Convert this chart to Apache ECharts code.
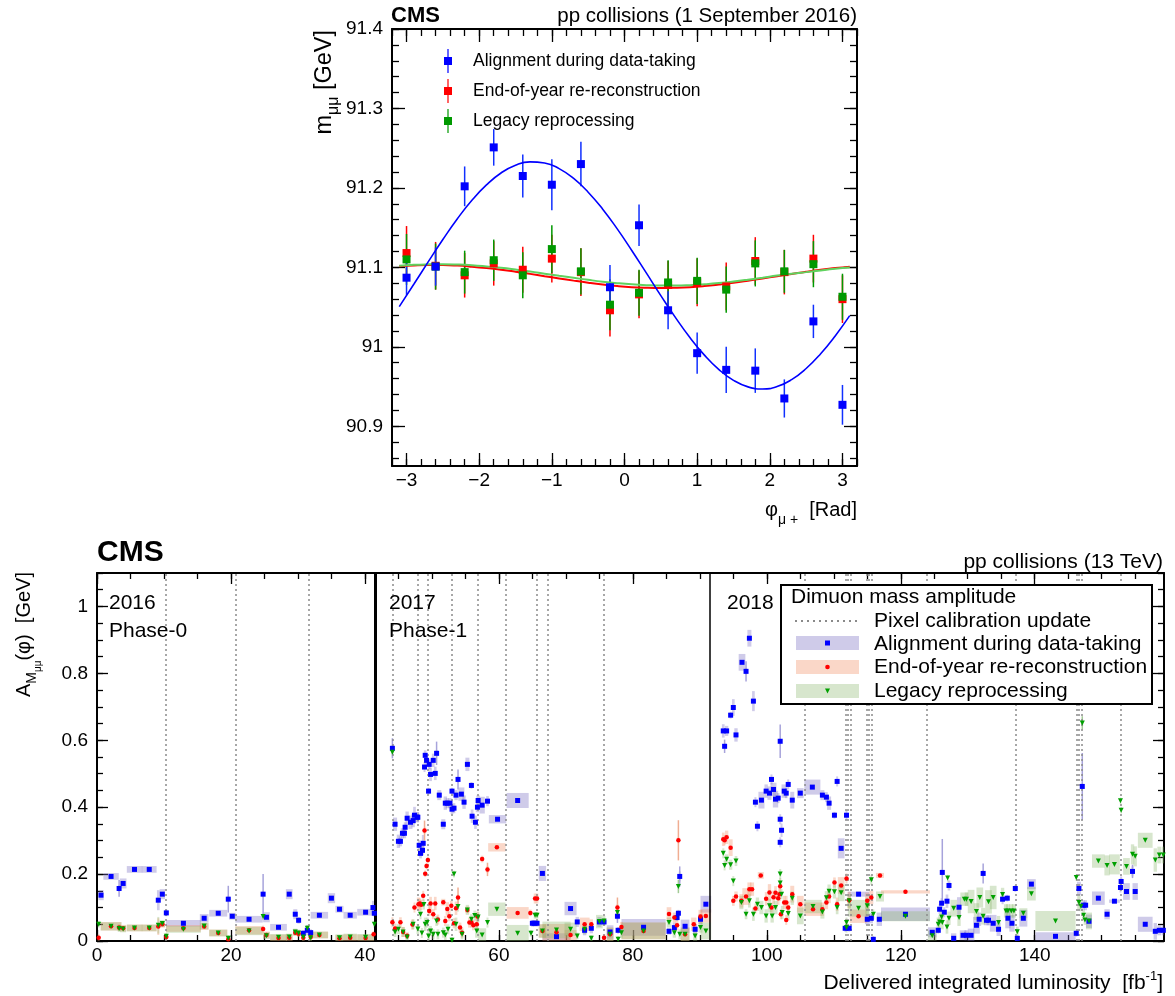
<!DOCTYPE html>
<html><head><meta charset="utf-8">
<script src="https://cdn.jsdelivr.net/npm/echarts@6/dist/echarts.min.js"></script>
<style>html,body{margin:0;padding:0;background:#fff}#c{width:1175px;height:996px}</style>
</head><body><div id="c"></div>
<script>
// ================= TOP PANEL DATA =================
const phi = [-3,-2.6,-2.2,-1.8,-1.4,-1,-0.6,-0.2,0.2,0.6,1,1.4,1.8,2.2,2.6,3];
const massAlign  = [91.087,91.101,91.202,91.251,91.215,91.204,91.230,91.075,91.153,91.046,90.992,90.971,90.970,90.935,91.032,90.927];
const errAlign   = [0.022,0.024,0.025,0.023,0.027,0.032,0.028,0.028,0.026,0.024,0.026,0.029,0.028,0.024,0.021,0.025];
const massReco   = [91.118,91.102,91.090,91.105,91.097,91.111,91.094,91.046,91.066,91.078,91.081,91.076,91.108,91.094,91.111,91.060];
const errReco    = [0.034,0.030,0.028,0.028,0.029,0.030,0.030,0.033,0.030,0.030,0.030,0.030,0.030,0.028,0.030,0.030];
const massLegacy = [91.110,91.101,91.094,91.109,91.090,91.123,91.095,91.053,91.068,91.081,91.083,91.072,91.105,91.095,91.104,91.063];
const errLegacy  = [0.032,0.029,0.027,0.026,0.029,0.030,0.029,0.032,0.029,0.028,0.029,0.029,0.029,0.027,0.029,0.029];
// fitted curves
const fitPhi    = [-3.1,-2.9,-2.7,-2.5,-2.3,-2.1,-1.9,-1.7,-1.5,-1.3,-1.1,-0.9,-0.7,-0.5,-0.3,-0.1,0.1,0.3,0.5,0.7,0.9,1.1,1.3,1.5,1.7,1.9,2.1,2.3,2.5,2.7,2.9,3.1];
const fitAlign  = [91.0506,91.0787,91.1072,91.1351,91.1612,91.1844,91.2038,91.2188,91.2286,91.2328,91.2314,91.2243,91.2119,91.1946,91.1732,91.1484,
                   91.1213,91.0930,91.0645,91.0371,91.0117,90.9895,90.9713,90.9578,90.9496,90.9470,90.9500,90.9587,90.9727,90.9913,91.0137,91.0392];
const fitReco   = [91.1015,91.1025,91.1030,91.1029,91.1022,91.1009,91.0992,91.0971,91.0946,91.0918,91.0889,91.0861,91.0833,91.0807,91.0784,91.0765,
                   91.0751,91.0743,91.0740,91.0743,91.0751,91.0765,91.0784,91.0806,91.0832,91.0860,91.0889,91.0917,91.0945,91.0970,91.0991,91.1009];
const fitLegacy = [91.1020,91.1032,91.1038,91.1040,91.1036,91.1027,91.1012,91.0994,91.0972,91.0948,91.0921,91.0894,91.0868,91.0843,91.0820,91.0801,
                   91.0786,91.0776,91.0771,91.0771,91.0776,91.0787,91.0802,91.0822,91.0845,91.0870,91.0897,91.0919,91.0940,91.0962,91.0982,91.0998];
const topXTicks = [-3,-2,-1,0,1,2,3];
const topYTicks = [90.9,91,91.1,91.2,91.3,91.4];

// ================= BOTTOM PANEL DATA =================
// each point: [luminosity, amplitude, bandWidth, bandHeight, errorBar]
const align2016 = [
[0.6,0.137,0.8,0.03,0],[2.1,0.193,2.3,0.02,0],[3.3,0.157,0.3,0.02,0.025],[3.9,0.172,1.0,0.03,0],[5.6,0.214,2.3,0.02,0],
[7.8,0.214,2.2,0.02,0],[9.15,0.122,0.4,0.06,0],[9.75,0.14,0.8,0.03,0],[10.35,0.084,0.3,0.02,0],[12.9,0.053,5.2,0.02,0],
[16.0,0.068,1.3,0.025,0],[18.1,0.083,2.7,0.02,0],[19.6,0.125,0.3,0.02,0.04],[20.2,0.074,1.0,0.02,0],[22.7,0.065,4.1,0.02,0],
[24.8,0.14,0.3,0.02,0.06],[25.3,0.071,1.0,0.03,0],[27.1,0.041,2.5,0.02,0],[28.7,0.14,1.0,0.03,0],[29.6,0.08,0.6,0.03,0],
[30.1,0.062,0.4,0.02,0],[30.8,0.023,0.5,0.02,0],[31.4,0.032,0.4,0.03,0],[31.9,0.025,0.4,0.02,0],[33.2,0.077,2.6,0.02,0],
[35.0,0.128,1.1,0.03,0],[36.2,0.095,1.2,0.02,0],[37.8,0.077,2.0,0.02,0],[40.1,0.086,2.5,0.02,0],[41.2,0.1,0.3,0.04,0],[41.4,0.083,0.3,0.02,0]];
const align2017 = [
[44.1,0.576,0.2,0.02,0.03],[44.5,0.349,0.6,0.04,0],[45.0,0.298,0.5,0.04,0],[45.3,0.298,0.5,0.03,0],[45.6,0.322,0.5,0.03,0],
[45.9,0.322,0.5,0.03,0],[46.0,0.34,0.4,0.03,0],[46.3,0.367,0.5,0.04,0],[46.8,0.355,0.6,0.04,0],[47.2,0.36,0.5,0.04,0],
[47.4,0.376,0.4,0.05,0],[47.8,0.37,0.5,0.03,0],[47.9,0.37,0.4,0.03,0],[48.1,0.286,0.4,0.03,0],[48.3,0.262,0.4,0.03,0],
[48.6,0.271,0.4,0.03,0],[48.7,0.292,0.4,0.05,0],[48.9,0.52,0.3,0.03,0],[49.0,0.555,0.4,0.03,0],[49.2,0.54,0.4,0.03,0],
[49.5,0.448,0.3,0.02,0],[49.6,0.528,0.4,0.03,0],[49.8,0.498,0.4,0.04,0],[50.2,0.54,0.4,0.04,0],[50.5,0.501,0.4,0.04,0],
[50.7,0.561,0.3,0.02,0.035],[51.1,0.436,0.6,0.03,0],[51.7,0.349,0.6,0.03,0],[52.0,0.412,0.5,0.04,0],[52.3,0.412,0.5,0.03,0],
[52.7,0.412,0.5,0.03,0],[53.0,0.448,0.3,0.02,0],[53.0,0.394,0.4,0.03,0],[53.3,0.397,0.4,0.03,0],[53.6,0.436,0.5,0.03,0],
[53.9,0.483,0.3,0.02,0.03],[54.4,0.439,0.9,0.04,0],[54.8,0.415,0.5,0.04,0],[55.3,0.528,0.6,0.04,0],[55.9,0.465,0.3,0.02,0],
[56.0,0.373,0.4,0.04,0],[56.5,0.355,0.4,0.04,0],[56.8,0.4,0.5,0.03,0],[56.9,0.42,0.5,0.03,0],[57.5,0.406,0.8,0.05,0],
[58.3,0.418,0.4,0.03,0],[59.8,0.364,2.6,0.025,0],[62.8,0.42,3.3,0.045,0],[65.0,0.053,0.4,0.02,0],[65.3,0.053,0.4,0.02,0],
[65.7,0.053,0.4,0.02,0],[66.5,0.202,1.1,0.045,0],[68.6,0.013,4.2,0.02,0],[70.7,0.097,1.8,0.04,0],[71.7,0.057,0.5,0.03,0],
[72.8,0.032,0.5,0.03,0],[73.8,0.038,0.5,0.03,0],[75.0,0.057,0.6,0.03,0],[75.7,0.057,0.4,0.02,0],[76.6,0.027,1.0,0.04,0],
[77.7,0.074,0.3,0.02,0.02],[77.8,0.032,0.3,0.02,0],[81.6,0.041,6.6,0.05,0],[85.4,0.029,0.6,0.02,0],[86.2,0.04,0.5,0.03,0],
[86.6,0.07,0.3,0.02,0],[86.8,0.083,0.3,0.02,0],[87.0,0.193,0.3,0.03,0.03],[87.8,0.044,1.3,0.04,0],[89.3,0.035,0.6,0.03,0],
[90.1,0.065,0.6,0.03,0],[90.9,0.11,1.6,0.05,0]];
const align2018 = [
[93.5,0.628,0.4,0.04,0],[93.7,0.582,0.2,0.02,0.02],[94.0,0.628,0.5,0.03,0],[94.6,0.675,0.3,0.02,0],[95.0,0.698,0.4,0.05,0],
[95.4,0.616,0.5,0.04,0],[96.3,0.833,1.0,0.05,0],[96.9,0.806,0.3,0.02,0.03],[97.4,0.905,0.6,0.05,0],[98.0,0.717,0.4,0.06,0],
[98.3,0.415,0.3,0.03,0],[98.6,0.343,0.3,0.03,0],[99.2,0.421,0.9,0.05,0],[99.9,0.448,0.5,0.04,0],[100.4,0.442,0.6,0.04,0],
[100.7,0.483,0.3,0.03,0],[101.0,0.453,0.9,0.04,0],[101.3,0.424,0.8,0.05,0],[101.7,0.427,0.4,0.03,0],[102.0,0.597,0.2,0.02,0.05],
[102.0,0.364,0.3,0.03,0],[102.2,0.331,0.3,0.04,0],[102.0,0.295,0.3,0.03,0],[102.6,0.448,0.8,0.04,0],[102.9,0.442,0.4,0.03,0],
[103.2,0.468,0.3,0.03,0],[103.8,0.421,0.6,0.05,0],[105.0,0.442,1.0,0.03,0],[106.8,0.46,2.4,0.045,0],[108.3,0.436,0.6,0.03,0],
[108.9,0.43,0.4,0.03,0],[109.3,0.412,0.6,0.04,0],[110.1,0.376,0.3,0.02,0],[110.5,0.477,0.3,0.03,0],[111.1,0.277,1.0,0.06,0],
[111.9,0.376,0.3,0.03,0],[111.7,0.038,0.3,0.02,0],[112.3,0.038,0.3,0.02,0],[113.7,0.14,3.2,0.015,0],[115.0,0.065,0.7,0.03,0],
[115.6,0.068,0.5,0.03,0],[115.9,0.005,0.3,0.02,0],[116.8,0.065,0.8,0.04,0],[120.7,0.08,7.3,0.04,0],[124.7,0.026,1.3,0.03,0],
[125.6,0.032,0.3,0.02,0],[125.8,0.095,0.3,0.03,0],[126.1,0.113,0.3,0.03,0],[126.2,0.205,0.2,0.02,0.1],[126.5,0.086,0.3,0.03,0],
[126.9,0.119,0.4,0.04,0],[127.2,0.166,0.4,0.03,0],[127.9,0.008,0.8,0.03,0],[128.7,0.101,0.6,0.06,0],[129.3,0.017,1.0,0.03,0],
[129.8,0.017,0.6,0.03,0],[130.5,0.017,1.0,0.04,0],[131.3,0.047,1.0,0.05,0],[131.7,0.065,0.6,0.04,0],[132.3,0.202,0.2,0.02,0.03],
[132.8,0.062,0.8,0.03,0],[133.1,0.062,0.6,0.03,0],[133.8,0.053,1.0,0.05,0],[134.6,0.035,0.6,0.04,0],[135.2,0.125,0.3,0.03,0],
[135.9,0.128,0.3,0.02,0],[136.0,0.068,0.8,0.06,0],[136.6,0.053,0.8,0.05,0],[137.1,0.157,0.3,0.02,0],[137.4,0.008,0.3,0.02,0],
[138.3,0.068,1.2,0.05,0],[139.5,0.17,1.3,0.03,0],[143.1,0.014,6.0,0.025,0],[146.2,0.023,0.3,0.02,0],[146.6,0.157,0.6,0.04,0],
[147.1,0.462,0.2,0.02,0.1],[147.3,0.107,0.4,0.03,0],[147.6,0.107,0.4,0.03,0],[148.1,0.059,0.9,0.04,0],[149.5,0.128,1.9,0.04,0],
[150.8,0.08,0.8,0.03,0],[151.9,0.119,1.6,0.01,0],[152.8,0.16,0.3,0.03,0],[152.9,0.178,0.3,0.03,0],[153.7,0.148,1.0,0.05,0],
[154.6,0.208,0.3,0.03,0.02],[155.0,0.148,0.8,0.05,0],[156.5,0.05,2.2,0.045,0],[158.0,0.029,0.5,0.05,0],[158.6,0.032,0.6,0.03,0],
[159.2,0.032,0.4,0.03,0]];
const reco2016 = [
[0.25,0.01,0.3,0.02,0],[2.1,0.044,3.1,0.025,0],[3.3,0.04,0.4,0.02,0],[3.9,0.038,0.9,0.02,0],[5.6,0.039,2.3,0.02,0],
[7.8,0.039,2.2,0.02,0],[9.15,0.043,0.3,0.05,0],[9.75,0.05,0.8,0.02,0],[10.35,0.012,0.3,0.02,0],[12.9,0.038,5.2,0.02,0],
[16.0,0.043,1.3,0.02,0],[18.1,0.024,2.7,0.02,0],[19.6,0.005,0.3,0.02,0],[22.7,0.032,4.1,0.025,0],[24.8,0.036,0.3,0.02,0],
[25.3,0.018,1.0,0.02,0],[27.1,0.009,2.5,0.02,0],[28.7,0.01,1.0,0.02,0],[29.6,0.025,0.6,0.02,0],[30.1,0.022,0.4,0.02,0],
[30.8,0.01,0.4,0.02,0],[31.9,0.012,0.4,0.02,0],[33.2,0.018,2.6,0.02,0],[36.2,0.008,1.2,0.02,0],[37.8,0.01,2.0,0.02,0],
[40.1,0.009,2.5,0.02,0],[41.3,0.02,0.3,0.02,0]];
const reco2017 = [
[44.1,0.056,0.3,0.03,0],[44.5,0.037,0.4,0.03,0],[45.3,0.056,0.4,0.03,0],[45.7,0.027,0.5,0.03,0],[46.3,0.016,0.5,0.02,0],
[47.1,0.049,0.4,0.03,0],[47.4,0.1,0.3,0.03,0],[48.0,0.11,0.5,0.04,0],[48.2,0.112,0.4,0.03,0],[48.4,0.108,0.4,0.03,0],
[48.7,0.135,0.3,0.03,0],[48.9,0.33,0.2,0.02,0.03],[49.0,0.201,0.3,0.02,0],[49.2,0.224,0.3,0.02,0],[49.4,0.242,0.3,0.02,0],
[49.6,0.09,0.4,0.03,0],[49.8,0.112,0.4,0.04,0],[50.2,0.08,0.4,0.03,0],[50.5,0.112,0.4,0.04,0],[50.9,0.064,0.4,0.03,0],
[51.7,0.116,0.6,0.02,0],[52.0,0.06,0.4,0.03,0],[52.3,0.096,0.5,0.04,0],[52.6,0.074,0.4,0.03,0],[52.9,0.105,0.4,0.03,0],
[53.3,0.053,0.4,0.03,0],[53.6,0.098,0.4,0.04,0],[53.9,0.13,0.3,0.02,0.03],[54.2,0.04,0.4,0.03,0],[54.5,0.025,0.4,0.03,0],
[55.3,0.093,0.6,0.02,0],[55.6,0.055,0.4,0.03,0],[55.9,0.055,0.4,0.03,0],[56.2,0.047,0.4,0.03,0],[56.7,0.05,0.4,0.03,0],
[56.8,0.073,0.4,0.03,0],[57.5,0.245,0.4,0.02,0],[58.3,0.214,0.3,0.02,0.02],[59.7,0.28,2.6,0.025,0],[62.8,0.084,3.3,0.035,0],
[64.7,0.084,0.4,0.02,0],[65.4,0.127,0.4,0.03,0],[65.7,0.127,0.4,0.03,0],[66.5,0.03,1.1,0.04,0],[68.6,0.026,4.2,0.05,0],
[70.7,0.018,1.8,0.03,0],[72.8,0.05,1.5,0.04,0],[73.8,0.05,0.5,0.03,0],[75.7,0.01,0.4,0.02,0],[76.6,0.02,1.0,0.04,0],
[77.7,0.1,0.3,0.02,0.03],[78.3,0.042,0.4,0.03,0],[81.6,0.03,6.6,0.05,0],[85.4,0.081,0.7,0.04,0],[86.2,0.07,0.5,0.03,0],
[86.6,0.047,0.4,0.03,0],[86.8,0.301,0.2,0.02,0.06],[87.8,0.02,1.3,0.04,0],[89.1,0.05,0.8,0.04,0],[90.1,0.073,0.6,0.04,0],
[90.9,0.075,1.6,0.04,0]];
const reco2018 = [
[93.5,0.304,0.4,0.04,0],[93.7,0.301,0.3,0.03,0],[94.0,0.31,0.5,0.04,0],[94.6,0.279,0.6,0.05,0],[95.0,0.12,0.4,0.03,0],
[95.4,0.133,0.5,0.03,0],[96.2,0.12,0.6,0.04,0],[96.9,0.133,1.1,0.05,0],[97.4,0.155,0.6,0.04,0],[97.8,0.155,0.6,0.04,0],
[98.3,0.097,0.3,0.03,0],[99.1,0.196,0.9,0.02,0],[99.9,0.126,0.4,0.04,0],[100.4,0.145,0.5,0.05,0],[100.7,0.1,0.4,0.03,0],
[101.0,0.131,0.4,0.04,0],[101.3,0.144,0.4,0.04,0],[101.7,0.128,0.4,0.04,0],[101.9,0.14,0.4,0.04,0],[102.0,0.164,0.3,0.04,0],
[102.1,0.08,0.3,0.03,0],[102.6,0.115,0.4,0.04,0],[102.9,0.115,0.4,0.04,0],[102.9,0.063,0.3,0.03,0],[103.2,0.1,0.4,0.04,0],
[103.8,0.14,0.6,0.05,0],[105.0,0.11,1.0,0.05,0],[106.9,0.095,2.6,0.04,0],[108.3,0.095,0.5,0.04,0],[108.9,0.115,0.5,0.04,0],
[109.3,0.133,0.5,0.04,0],[110.1,0.175,0.4,0.03,0],[110.5,0.11,0.4,0.04,0],[111.1,0.166,1.0,0.05,0],[111.9,0.187,0.3,0.03,0],
[112.3,0.122,0.5,0.05,0],[113.7,0.074,2.6,0.04,0],[115.0,0.12,0.6,0.05,0],[115.6,0.13,0.6,0.04,0],[116.9,0.196,1.2,0.015,0],
[120.7,0.147,7.3,0.01,0]];
const legacy2016 = [
[0.25,0.05,0.3,0.02,0],[2.1,0.044,3.1,0.025,0],[3.3,0.037,0.4,0.02,0],[3.9,0.036,0.9,0.02,0],[5.6,0.039,2.3,0.02,0],
[7.8,0.039,2.2,0.02,0],[9.15,0.047,0.3,0.05,0],[9.75,0.052,0.8,0.02,0],[10.35,0.014,0.3,0.02,0],[12.9,0.035,5.2,0.02,0],
[16.0,0.045,1.3,0.02,0],[18.1,0.024,2.7,0.02,0],[19.6,0.008,0.3,0.02,0],[22.7,0.03,4.1,0.025,0],[24.8,0.073,0.3,0.02,0],
[25.3,0.016,1.0,0.02,0],[27.1,0.011,2.5,0.02,0],[28.7,0.012,1.0,0.02,0],[29.6,0.027,0.6,0.02,0],[30.1,0.024,0.4,0.02,0],
[30.8,0.012,0.4,0.02,0],[31.4,0.038,0.4,0.02,0],[31.9,0.01,0.4,0.02,0],[33.2,0.018,2.6,0.02,0],[36.2,0.01,1.2,0.02,0],
[37.8,0.012,2.0,0.02,0],[40.1,0.011,2.5,0.02,0],[41.4,0.05,0.3,0.02,0]];
const legacy2017 = [
[44.1,0.564,0.2,0.02,0],[44.5,0.027,0.4,0.03,0],[45.0,0.035,0.5,0.03,0],[45.7,0.027,0.5,0.03,0],[46.3,0.012,0.5,0.02,0],
[47.2,0.05,0.4,0.03,0],[47.9,0.036,0.4,0.03,0],[48.3,0.08,0.3,0.03,0],[48.5,0.024,0.3,0.03,0],[48.8,0.109,0.3,0.03,0],
[49.0,0.05,0.4,0.04,0],[49.3,0.055,0.4,0.03,0],[49.5,0.015,0.4,0.03,0],[49.8,0.03,0.4,0.03,0],[50.2,0.02,0.4,0.03,0],
[50.7,0.06,0.4,0.03,0],[50.9,0.02,0.4,0.03,0],[51.7,0.025,0.4,0.03,0],[52.0,0.018,0.4,0.03,0],[52.4,0.035,0.4,0.03,0],
[53.0,0.002,0.4,0.02,0],[53.3,0.2,0.3,0.02,0],[53.6,0.05,0.4,0.04,0],[53.9,0.103,0.3,0.03,0],[54.5,0.02,0.4,0.03,0],
[55.3,0.093,0.5,0.03,0],[55.9,0.065,0.4,0.03,0],[56.4,0.076,0.4,0.03,0],[56.7,0.03,0.5,0.04,0],[56.9,0.072,0.4,0.03,0],
[57.5,0.018,1.2,0.04,0],[58.3,0.055,0.3,0.03,0],[59.7,0.095,2.6,0.04,0],[62.8,0.023,3.3,0.05,0],[64.8,0.023,0.4,0.02,0],
[65.4,0.077,0.4,0.02,0],[65.7,0.077,0.4,0.02,0],[66.5,0.03,1.1,0.04,0],[68.6,0.033,4.2,0.05,0],[70.7,0.035,1.8,0.04,0],
[71.7,0.015,0.4,0.02,0],[72.8,0.035,0.6,0.03,0],[73.8,0.008,0.4,0.02,0],[75.0,0.058,1.0,0.04,0],[75.7,0.06,0.4,0.03,0],
[76.6,0.02,1.0,0.04,0],[77.7,0.085,0.3,0.02,0],[77.8,0.005,0.3,0.02,0],[78.3,0.025,0.4,0.03,0],[81.6,0.03,6.6,0.05,0],
[85.4,0.055,0.7,0.03,0],[86.2,0.025,0.5,0.03,0],[86.8,0.163,0.2,0.02,0.02],[87.0,0.02,0.4,0.03,0],[87.8,0.02,1.3,0.04,0],
[89.3,0.015,0.6,0.03,0],[90.1,0.04,0.6,0.03,0],[90.9,0.03,1.6,0.05,0]];
const legacy2018 = [
[93.5,0.262,0.3,0.03,0],[93.7,0.226,0.3,0.03,0],[94.0,0.244,0.5,0.03,0],[94.6,0.228,0.5,0.03,0],[95.0,0.179,0.3,0.03,0],
[95.4,0.239,0.4,0.03,0],[96.2,0.115,0.6,0.04,0],[96.9,0.08,0.4,0.03,0],[97.4,0.12,0.4,0.04,0],[98.0,0.08,0.4,0.04,0],
[98.6,0.11,0.5,0.04,0],[99.2,0.1,0.6,0.04,0],[99.9,0.075,0.5,0.04,0],[100.4,0.105,0.5,0.04,0],[100.8,0.075,0.5,0.04,0],
[101.3,0.1,0.6,0.04,0],[102.0,0.2,0.3,0.03,0],[102.0,0.173,0.3,0.03,0],[102.2,0.14,0.3,0.03,0],[102.3,0.085,0.4,0.04,0],
[103.2,0.082,0.4,0.04,0],[103.8,0.128,0.5,0.04,0],[105.0,0.075,1.0,0.05,0],[106.9,0.103,2.6,0.04,0],[108.3,0.087,0.6,0.04,0],
[108.9,0.129,0.5,0.04,0],[109.3,0.149,0.5,0.04,0],[110.1,0.147,0.5,0.04,0],[110.5,0.1,0.4,0.04,0],[111.1,0.144,1.0,0.05,0],
[111.9,0.055,0.3,0.03,0],[111.9,0.04,0.3,0.03,0],[112.3,0.12,0.5,0.04,0],[113.7,0.098,3.2,0.05,0],[115.0,0.105,0.6,0.05,0],
[115.6,0.183,0.3,0.03,0],[115.9,0.08,0.3,0.03,0],[116.9,0.133,1.2,0.03,0],[120.7,0.074,7.3,0.03,0],[124.7,0.016,1.3,0.03,0],
[125.6,0.05,0.5,0.04,0],[125.8,0.057,0.4,0.04,0],[126.1,0.072,0.4,0.04,0],[126.2,0.055,0.4,0.04,0],[126.9,0.042,0.4,0.04,0],
[127.0,0.188,0.2,0.02,0],[127.2,0.068,0.5,0.04,0],[127.9,0.098,1.0,0.05,0],[128.7,0.07,0.5,0.05,0],[129.5,0.125,1.2,0.04,0],
[129.8,0.125,0.5,0.04,0],[130.5,0.118,1.0,0.07,0],[131.3,0.088,0.8,0.05,0],[131.8,0.13,1.0,0.06,0],[132.3,0.074,0.6,0.05,0],
[133.1,0.117,1.0,0.07,0],[133.8,0.13,1.0,0.07,0],[134.6,0.055,0.5,0.04,0],[135.2,0.139,0.5,0.04,0],[135.7,0.09,0.6,0.04,0],
[136.0,0.09,0.6,0.04,0],[136.5,0.09,0.6,0.04,0],[136.9,0.09,0.6,0.04,0],[137.4,0.028,0.4,0.03,0],[138.3,0.083,1.2,0.03,0],
[139.5,0.141,1.3,0.04,0],[143.1,0.06,6.0,0.06,0],[146.2,0.19,0.2,0.02,0],[146.6,0.115,0.5,0.04,0],[146.9,0.104,0.4,0.03,0],
[147.1,0.652,0.2,0.02,0.02],[147.3,0.077,0.4,0.03,0],[147.5,0.063,0.4,0.03,0],[148.1,0.06,0.9,0.05,0],[149.5,0.239,1.9,0.04,0],
[150.8,0.226,0.8,0.06,0],[151.9,0.229,1.6,0.06,0],[152.8,0.419,0.2,0.02,0],[152.9,0.391,0.2,0.02,0],[153.7,0.223,1.0,0.05,0],
[154.6,0.259,0.5,0.06,0],[155.0,0.253,0.5,0.06,0],[156.5,0.301,2.2,0.045,0],[158.0,0.242,0.5,0.07,0],[158.6,0.257,0.6,0.05,0],
[159.2,0.257,0.4,0.05,0]];
const calibUpdates = [10.25,20.7,31.65, 44.1,47.9,49.4,53.0,56.9,61.0,65.6,67.3,75.7,
  105.7,111.8,112.1,112.5,114.9,115.2,115.6,123.9,137.1,146.2,146.5,147.0,152.9];
const yearBoundaries = [41.5, 91.5];
const lumiTicks = [0,20,40,60,80,100,120,140];
const ampTicks = [0,0.2,0.4,0.6,0.8,1];

// ================= BUILD =================
const FONT = "'Liberation Sans', Arial, Helvetica, sans-serif";
function seq(start, step, end){ const a=[]; for(let v=start; v<=end+1e-9; v+=step) a.push(+v.toFixed(4)); return a; }
const topXMinor = seq(-3.2,0.2,3.2), topYMinor = seq(90.86,0.02,91.4);
const botXMinor = seq(0,5,159), botYMinor = seq(0,0.05,1.1);

const TOP = {left:392, top:29, width:465, height:437};
const BOT = {left:97, top:573, width:1067, height:368};
const XR_T=[-3.2,3.2], YR_T=[90.85,91.4], XR_B=[0,159.3], YR_B=[0,1.1];

function axis(gi, pos, range, ticks, len, withLine, label){
  return {type:'value', gridIndex:gi, position:pos, min:range[0], max:range[1],
    axisLine:{show:withLine, onZero:false, lineStyle:{color:'#000', width:2}},
    axisTick:{show:true, inside:true, length:len, customValues:ticks, lineStyle:{color:'#000', width:1.3}},
    axisLabel: label ? Object.assign({show:true, customValues:ticks, color:'#000', fontFamily:FONT}, label) : {show:false},
    splitLine:{show:false}, minorTick:{show:false}};
}
const fmtTopX = v => v<0 ? '\u2212'+Math.abs(v) : String(v);
const fmtNum = v => String(+v.toFixed(2));

const xAxes = [
  axis(0,'bottom',XR_T,topXTicks,13,true,{fontSize:19, margin:5, formatter:fmtTopX}),
  axis(0,'top',XR_T,topXTicks,13,true,null),
  axis(1,'bottom',XR_T,topXMinor,7,false,null),
  axis(1,'top',XR_T,topXMinor,7,false,null),
  axis(2,'bottom',XR_B,lumiTicks,11,true,{fontSize:19, margin:5, formatter:fmtNum}),
  axis(2,'top',XR_B,lumiTicks,11,true,null),
  axis(3,'bottom',XR_B,botXMinor,6,false,null),
  axis(3,'top',XR_B,botXMinor,6,false,null)
];
const yAxes = [
  axis(0,'left',YR_T,topYTicks,13,true,{fontSize:19, margin:9, formatter:fmtNum}),
  axis(0,'right',YR_T,topYTicks,13,true,null),
  axis(1,'left',YR_T,topYMinor,7,false,null),
  axis(1,'right',YR_T,topYMinor,7,false,null),
  axis(2,'left',YR_B,ampTicks,11,true,{fontSize:19, margin:9, formatter:fmtNum}),
  axis(2,'right',YR_B,ampTicks,11,true,null),
  axis(3,'left',YR_B,botYMinor,6,false,null),
  axis(3,'right',YR_B,botYMinor,6,false,null)
];

function errRender(color, width, idx){
  return function(params, api){
    const x=api.value(0), y=api.value(1), e=api.value(idx);
    if(!e) return null;
    const a=api.coord([x,y-e]), b=api.coord([x,y+e]);
    return {type:'line', shape:{x1:a[0],y1:a[1],x2:b[0],y2:b[1]}, style:{stroke:color, lineWidth:width}};
  };
}
function bandRender(fill){
  return function(params, api){
    const x=api.value(0), y=api.value(1), w=api.value(2), h=api.value(3);
    const a=api.coord([x-w/2, y+h/2]), b=api.coord([x+w/2, y-h/2]);
    return {type:'rect', shape:{x:a[0], y:a[1], width:Math.max(b[0]-a[0],1.5), height:Math.max(b[1]-a[1],1.5)}, style:{fill}};
  };
}
const topPts = (m,e) => phi.map((p,i)=>[p,m[i],e[i]]);
const fitPts = f => fitPhi.map((p,i)=>[p,f[i]]);

const alignAll = align2016.concat(align2017, align2018);
const recoAll = reco2016.concat(reco2017, reco2018);
const legacyAll = legacy2016.concat(legacy2017, legacy2018);

const BAND_B='rgba(118,106,192,0.35)', BAND_R='rgba(241,141,98,0.35)', BAND_G='rgba(141,184,112,0.35)';

const series = [
  // ---- top panel ----
  {type:'custom', xAxisIndex:0, yAxisIndex:0, z:2, renderItem:errRender('#ff0000',1.5,2), data:topPts(massReco,errReco), encode:{x:0,y:1}},
  {type:'custom', xAxisIndex:0, yAxisIndex:0, z:2, renderItem:errRender('#009900',1.5,2), data:topPts(massLegacy,errLegacy), encode:{x:0,y:1}},
  {type:'custom', xAxisIndex:0, yAxisIndex:0, z:2, renderItem:errRender('#1030ff',1.5,2), data:topPts(massAlign,errAlign), encode:{x:0,y:1}},
  {type:'line', xAxisIndex:0, yAxisIndex:0, z:3, data:fitPts(fitReco), smooth:true, showSymbol:false, symbol:'none', lineStyle:{color:'#ff0000', width:2}},
  {type:'line', xAxisIndex:0, yAxisIndex:0, z:3, data:fitPts(fitLegacy), smooth:true, showSymbol:false, symbol:'none', lineStyle:{color:'#5fd35f', width:2}},
  {type:'line', xAxisIndex:0, yAxisIndex:0, z:3, data:fitPts(fitAlign), smooth:true, showSymbol:false, symbol:'none', lineStyle:{color:'#0000ff', width:1.6}},
  {name:'End-of-year re-reconstruction', type:'scatter', xAxisIndex:0, yAxisIndex:0, z:4, symbol:'rect', symbolSize:8, itemStyle:{color:'#ff0000', opacity:1}, data:topPts(massReco,errReco)},
  {name:'Legacy reprocessing', type:'scatter', xAxisIndex:0, yAxisIndex:0, z:5, symbol:'rect', symbolSize:8, itemStyle:{color:'#009900', opacity:1}, data:topPts(massLegacy,errLegacy)},
  {name:'Alignment during data-taking', type:'scatter', xAxisIndex:0, yAxisIndex:0, z:6, symbol:'rect', symbolSize:8, itemStyle:{color:'#0000ff', opacity:1}, data:topPts(massAlign,errAlign)},
  // ---- bottom panel ----
  {type:'scatter', xAxisIndex:4, yAxisIndex:4, z:1, data:[], silent:true,
    markLine:{silent:true, symbol:['none','none'], label:{show:false}, animation:false,
      lineStyle:{color:'#8a8a8a', width:1.5, type:[2,3]},
      data: calibUpdates.map(v=>({xAxis:v}))}},
  {type:'custom', xAxisIndex:4, yAxisIndex:4, z:2, clip:true, renderItem:bandRender(BAND_B), data:alignAll, encode:{x:0,y:1}},
  {type:'custom', xAxisIndex:4, yAxisIndex:4, z:2, clip:true, renderItem:bandRender(BAND_R), data:recoAll, encode:{x:0,y:1}},
  {type:'custom', xAxisIndex:4, yAxisIndex:4, z:2, clip:true, renderItem:bandRender(BAND_G), data:legacyAll, encode:{x:0,y:1}},
  {type:'custom', xAxisIndex:4, yAxisIndex:4, z:3, clip:true, renderItem:errRender('#a7a3db',1.5,4), data:alignAll, encode:{x:0,y:1}},
  {type:'custom', xAxisIndex:4, yAxisIndex:4, z:3, clip:true, renderItem:errRender('#f0ad92',1.5,4), data:recoAll, encode:{x:0,y:1}},
  {type:'custom', xAxisIndex:4, yAxisIndex:4, z:3, clip:true, renderItem:errRender('#a3cb96',1.5,4), data:legacyAll, encode:{x:0,y:1}},
  {type:'scatter', xAxisIndex:4, yAxisIndex:4, z:6, data:[], silent:true,
    markLine:{silent:true, symbol:['none','none'], label:{show:false}, animation:false,
      lineStyle:{color:'#000', width:2, type:'solid'},
      data: yearBoundaries.map((v,i)=>({xAxis:v, lineStyle:{width: i===0 ? 3 : 1.5}}))}},
  {name:'lumi-align', type:'scatter', xAxisIndex:4, yAxisIndex:4, z:5, symbol:'rect', symbolSize:5, itemStyle:{color:'#0000ff', opacity:1}, data:alignAll},
  {name:'lumi-reco', type:'scatter', xAxisIndex:4, yAxisIndex:4, z:5, symbol:'circle', symbolSize:4.5, itemStyle:{color:'#ff0000', opacity:1}, data:recoAll},
  {name:'lumi-legacy', type:'scatter', xAxisIndex:4, yAxisIndex:4, z:5, symbol:'triangle', symbolRotate:180, symbolSize:[5,5], itemStyle:{color:'#00a000', opacity:1}, data:legacyAll}
];

const txt = (x,y,text,size,extra) => ({type:'text', x, y, z:100, style:Object.assign({text, fill:'#000', font: size+'px '+FONT, verticalAlign:'middle'}, extra||{})});
// rich-text helpers: padding-top shifts a token down by half its value, padding-bottom shifts it up
const R = (size, pad) => ({fontSize:size, fontFamily:FONT, fill:'#000', padding:pad||[0,0,0,0]});

const graphic = [
  txt(391,16,'CMS',22,{font:'bold 22px '+FONT}),
  txt(857,16,'pp collisions (1 September 2016)',20.5,{align:'right'}),
  {type:'text', x:325, y:30, rotation:Math.PI/2, z:100, style:{text:'{m|m}{s|\u03bc\u03bc}{m| [GeV]}', align:'right', verticalAlign:'middle', fill:'#000',
    rich:{m:R(23.5), s:R(16,[18,0,0,0])}}},
  {type:'text', x:857, y:510, z:100, style:{text:'{m|\u03c6}{s|\u03bc +}{m|  [Rad]}', align:'right', verticalAlign:'middle', fill:'#000',
    rich:{m:R(20), s:R(14,[20,0,0,0])}}},
  txt(97,553,'CMS',30,{font:'bold 30px '+FONT}),
  txt(1163,562,'pp collisions (13 TeV)',21,{align:'right'}),
  txt(109,603,'2016',21), txt(109,631,'Phase-0',21),
  txt(389,603,'2017',21), txt(389,631,'Phase-1',21),
  txt(727,603,'2018',21),
  {type:'text', x:24, y:572, rotation:Math.PI/2, z:100, style:{text:'{a|A}{b|M}{c|\u03bc\u03bc}{a|(\u03c6)  [GeV]}', align:'right', verticalAlign:'middle', fill:'#000',
    rich:{a:R(20), b:R(14,[16,0,0,0]), c:R(10,[28,0,0,0])}}},
  {type:'text', x:1163, y:983, z:100, style:{text:'{m|Delivered integrated luminosity  [fb}{s|-1}{m|]}', align:'right', verticalAlign:'middle', fill:'#000',
    rich:{m:R(21), s:R(13,[0,0,14,0])}}},
  // bottom legend
  {type:'rect', z:90, shape:{x:781,y:585,width:371,height:119}, style:{fill:'#fff', stroke:'#000', lineWidth:2}},
  txt(791,597,'Dimuon mass amplitude',21),
  {type:'line', z:100, shape:{x1:795,y1:621,x2:859,y2:621}, style:{stroke:'#8a8a8a', lineWidth:2, lineDash:[2,4]}},
  txt(874,621,'Pixel calibration update',21),
  {type:'rect', z:100, shape:{x:796,y:636,width:63,height:14}, style:{fill:BAND_B}},
  {type:'rect', z:101, shape:{x:825,y:640.5,width:5,height:5}, style:{fill:'#0000ff'}},
  txt(874,644,'Alignment during data-taking',21),
  {type:'rect', z:100, shape:{x:796,y:660,width:63,height:14}, style:{fill:BAND_R}},
  {type:'circle', z:101, shape:{cx:827.5,cy:667,r:2.3}, style:{fill:'#ff0000'}},
  txt(874,667,'End-of-year re-reconstruction',21),
  {type:'rect', z:100, shape:{x:796,y:684,width:63,height:14}, style:{fill:BAND_G}},
  {type:'polygon', z:101, shape:{points:[[825,688.5],[830,688.5],[827.5,693.5]]}, style:{fill:'#00a000'}},
  txt(874,691,'Legacy reprocessing',21)
];

const option = {
  animation:false,
  backgroundColor:'#fff',
  grid:[
    Object.assign({containLabel:false}, TOP),
    Object.assign({containLabel:false}, TOP),
    Object.assign({containLabel:false}, BOT),
    Object.assign({containLabel:false}, BOT)
  ],
  xAxis:xAxes, yAxis:yAxes,
  legend:{
    data:['Alignment during data-taking','End-of-year re-reconstruction','Legacy reprocessing'],
    orient:'vertical', left:439, top:44, itemWidth:8, itemHeight:24, itemGap:6,
    icon:'path://M3.4,0H4.6V8H8V16H4.6V24H3.4V16H0V8H3.4Z',
    selectedMode:false,
    textStyle:{fontSize:17.5, color:'#000', fontFamily:FONT, padding:[0,0,0,16]}
  },
  series, graphic
};
const chart = echarts.init(document.getElementById('c'));
chart.setOption(option);
</script>
</body></html>
